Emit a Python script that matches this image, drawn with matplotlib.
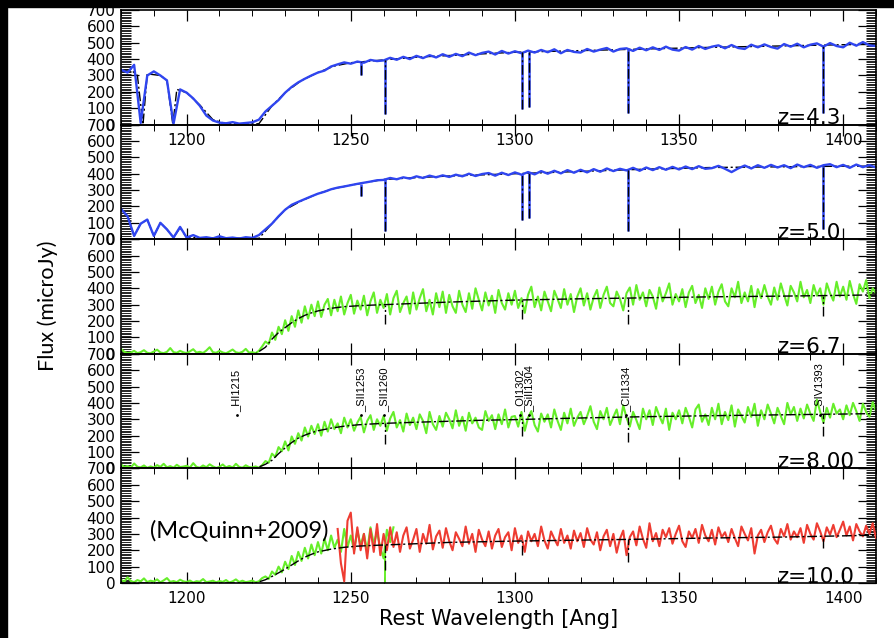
import numpy as np
import matplotlib.pyplot as plt
from matplotlib.ticker import MultipleLocator
from matplotlib.patches import Rectangle

plt.rcParams['font.family'] = 'DejaVu Sans'

BLUE = '#2f45f0'
GREEN = '#66ee2a'
RED = '#ee3c32'

# observed spectra, rest wavelength in Angstrom, flux in microJy
wave_coarse = np.arange(1180, 1411, 2)
wave_fine = np.arange(1180, 1411)

flux_z43 = [335, 318, 365, 10, 300, 325, 300, 270, 5, 215,
            195, 160, 115, 55, 25, 12, 8, 15, 6, 10,
            14, 30, 80, 115, 150, 195, 230, 258, 280, 300,
            318, 330, 355, 368, 380, 372, 385, 378, 395, 388,
            392, 408, 396, 414, 400, 420, 406, 424, 410, 430,
            414, 432, 418, 440, 424, 438, 446, 428, 450, 434,
            448, 436, 452, 440, 456, 442, 460, 436, 456, 444,
            440, 462, 446, 458, 468, 446, 462, 466, 450, 470,
            454, 472, 456, 476, 458, 452, 474, 458, 480, 462,
            476, 484, 466, 486, 468, 462, 488, 472, 490, 474,
            464, 492, 476, 494, 472, 488, 496, 476, 498, 480,
            472, 500, 482, 504, 484, 480]

flux_z50 = [185, 140, 20, 95, 120, 20, 100, 60, 10, 75,
            10, 25, 8, 12, 5, 18, 6, 10, 4, 12,
            8, 25, 60, 95, 140, 180, 210, 228, 245, 262,
            278, 290, 305, 315, 322, 330, 338, 345, 352, 360,
            362, 374, 366, 378, 370, 384, 374, 388, 378, 390,
            380, 394, 384, 400, 386, 398, 404, 388, 406, 392,
            408, 394, 410, 396, 416, 400, 418, 402, 422, 406,
            424, 408, 428, 412, 432, 416, 430, 420, 436, 418,
            438, 422, 440, 424, 442, 426, 444, 428, 446, 430,
            434, 448, 430, 410, 432, 450, 432, 452, 436, 454,
            438, 452, 434, 456, 440, 454, 436, 452, 458, 440,
            454, 436, 456, 440, 452, 438]

flux_z67 = [30, 12, 5, 8, 18, 4, 10, 22, 6, 3,
            14, 25, 8, 4, 12, 35, 10, 6, 18, 9,
            4, 15, 28, 7, 12, 5, 20, 40, 10, 6,
            18, 8, 3, 14, 26, 9, 5, 12, 30, 7,
            10, 4, 18, 45, 75, 60, 130, 85, 165, 120,
            205, 140, 230, 165, 265, 190, 290, 215, 300, 230,
            320, 225, 300, 335, 235, 330, 260, 350, 240, 310,
            360, 245, 325, 270, 355, 235, 320, 375, 250, 330,
            280, 365, 240, 340, 385, 255, 310, 350, 245, 375,
            270, 340, 395, 260, 330, 240, 370, 285, 380, 250,
            360, 290, 250, 385, 300, 255, 370, 275, 400, 330,
            265, 375, 295, 355, 250, 390, 310, 270, 370, 300,
            385, 280, 340, 250, 360, 410, 285, 350, 265, 380,
            320, 260, 385, 335, 280, 395, 300, 365, 255, 350,
            400, 295, 370, 270, 345, 390, 280, 360, 410, 310,
            290, 380, 335, 265, 370, 405, 300, 420, 330, 375,
            290, 390, 350, 275, 405, 320, 370, 430, 300, 365,
            320, 395, 285, 375, 415, 310, 360, 280, 400, 335,
            410, 300, 380, 425, 320, 290, 400, 345, 440, 310,
            375, 320, 415, 285, 395, 340, 420, 350, 300, 405,
            330, 430, 360, 295, 415, 375, 320, 440, 345, 390,
            310, 420, 355, 400, 300, 430, 370, 325, 440, 350,
            410, 330, 445, 365, 305, 425, 380, 450, 340, 400,
            370]

flux_z80 = [25, 8, 15, 4, 30, 10, 6, 18, 3, 12,
            5, 20, 9, 28, 6, 14, 4, 22, 8, 11,
            16, 5, 32, 9, 4, 18, 7, 25, 12, 3,
            10, 24, 6, 15, 5, 28, 9, 4, 19, 8,
            6, 12, 4, 20, 45, 35, 90, 70, 130, 105,
            165, 110, 195, 150, 215, 170, 250, 195, 260, 210,
            270, 200, 285, 225, 300, 240, 275, 215, 310, 250,
            300, 230, 280, 315, 220, 290, 325, 235, 300, 260,
            320, 230, 305, 345, 250, 295, 225, 335, 265, 310,
            240, 330, 290, 215, 345, 270, 235, 320, 255, 340,
            300, 245, 355, 260, 315, 230, 340, 275, 310, 250,
            235, 350, 290, 325, 240, 330, 270, 360, 250, 315,
            320, 255, 345, 230, 310, 350, 265, 225, 335, 285,
            330, 250, 360, 290, 235, 340, 275, 365, 260, 310,
            345, 270, 320, 380, 285, 240, 350, 300, 370, 265,
            315, 360, 270, 385, 310, 255, 345, 295, 240, 365,
            300, 355, 265, 375, 320, 275, 365, 235, 340, 300,
            355, 275, 370, 315, 250, 360, 390, 285, 330, 265,
            370, 300, 395, 270, 345, 295, 385, 255, 360, 320,
            280, 375, 315, 395, 260, 355, 300, 390, 335, 275,
            370, 320, 270, 400, 330, 375, 290, 365, 305, 390,
            335, 290, 420, 345, 280, 370, 310, 395, 335, 360,
            300, 385, 325, 400, 350, 290, 395, 345, 315, 405,
            350]

wave_z100_green = np.arange(1180, 1264)
flux_z100_green = [20, 8, 35, 12, 5, 18, 10, 28, 6, 14,
                   9, 22, 4, 16, 30, 7, 12, 5, 20, 10,
                   6, 15, 3, 11, 8, 24, 5, 9, 14, 4,
                   12, 7, 18, 3, 10, 22, 6, 14, 5, 9,
                   15, 4, 10, 30, 40, 25, 70, 50, 100, 65,
                   130, 85, 165, 110, 190, 135, 215, 150, 235, 170,
                   250, 180, 270, 200, 290, 215, 265, 190, 330, 220,
                   290, 200, 320, 230, 300, 195, 340, 240, 310, 215,
                   150, 325, 250, 340]

wave_z100_red = np.arange(1246, 1411)
flux_z100_red = [330, 120, 10, 380, 430, 180, 340, 200, 300, 150,
                 330, 190, 360, 170, 300, 200, 340, 220, 310, 190,
                 290, 340, 210, 265, 330, 190, 300, 240, 355, 205,
                 285, 320, 215, 335, 255, 200, 310, 270, 225, 345,
                 240, 300, 190, 325, 265, 225, 315, 210, 290, 330,
                 220, 280, 310, 200, 335, 245, 290, 190, 315, 255,
                 300, 225, 345, 260, 210, 315, 270, 230, 330, 245,
                 290, 210, 320, 255, 305, 220, 335, 265, 235, 310,
                 200, 285, 325, 225, 300, 185, 270, 320, 170, 280,
                 315, 230, 345, 270, 215, 365, 255, 305, 225, 325,
                 280, 335, 240, 300, 350, 255, 220, 315, 275, 330,
                 245, 355, 290, 255, 325, 235, 340, 280, 310, 250,
                 330, 275, 225, 345, 300, 260, 335, 180, 290, 325,
                 250, 310, 350, 270, 240, 330, 285, 360, 265, 315,
                 280, 335, 245, 355, 300, 265, 365, 315, 255, 340,
                 295, 355, 280, 325, 375, 290, 345, 260, 360, 315,
                 285, 350, 300, 365, 275]

# continuum + damping wing fits
fit_wave_z43 = [1180, 1183, 1185, 1186.7, 1188, 1192, 1194, 1195.8, 1197, 1200,
                1204, 1208, 1212, 1222, 1226, 1230, 1235, 1240, 1245, 1250,
                1260, 1270, 1280, 1300, 1320, 1340, 1360, 1380, 1400, 1410]
fit_z43 = [330, 335, 300, 0, 310, 300, 270, 0, 215, 195,
           120, 30, 5, 5, 115, 195, 270, 318, 358, 378,
           395, 412, 422, 442, 452, 462, 472, 480, 488, 490]

fit_wave_z50 = [1180, 1182, 1184, 1186, 1188, 1190, 1192, 1194, 1196, 1198,
                1200, 1222, 1226, 1230, 1235, 1240, 1245, 1250, 1260, 1270,
                1280, 1300, 1320, 1340, 1360, 1380, 1400, 1410]
fit_z50 = [180, 140, 20, 95, 120, 20, 100, 60, 10, 70,
           10, 5, 95, 180, 235, 278, 310, 330, 365, 376,
           386, 400, 414, 428, 438, 442, 446, 446]

fit_wave = [1180, 1221, 1224, 1226, 1228, 1230, 1232, 1234, 1236, 1238,
            1240, 1244, 1248, 1252, 1256, 1260, 1270, 1280, 1290, 1300,
            1320, 1340, 1360, 1380, 1400, 1410]
fit_z67 = [0, 0, 40, 90, 130, 160, 190, 215, 235, 250,
           262, 278, 288, 293, 297, 300, 308, 316, 322, 328,
           336, 342, 348, 352, 357, 360]
fit_z80 = [0, 0, 25, 50, 90, 125, 158, 185, 203, 218,
           230, 246, 258, 266, 271, 275, 282, 288, 294, 298,
           308, 316, 322, 327, 332, 335]
fit_z100 = [0, 0, 20, 40, 62, 85, 110, 135, 158, 175,
            190, 207, 218, 225, 229, 232, 240, 248, 252, 256,
            262, 268, 275, 280, 288, 292]

# metal absorption lines in the blue spectra
line_wave = [1253.0, 1260.4, 1302.2, 1304.4, 1334.5, 1393.8]
line_top_z43 = [380, 395, 442, 446, 460, 486]
line_bot_z43 = [300, 65, 95, 110, 70, 70]
line_top_z50 = [340, 365, 400, 404, 425, 446]
line_bot_z50 = [262, 50, 120, 130, 50, 60]

# metal lines in the fitted model of the mock spectra
fit_line_wave = [1260.4, 1302.2, 1334.5, 1393.8]
fit_line_top_z67 = [298, 330, 340, 355]
fit_line_bot_z67 = [183, 213, 183, 231]
fit_line_top_z80 = [275, 298, 314, 330]
fit_line_bot_z80 = [146, 195, 164, 195]
fit_line_top_z100 = [232, 256, 266, 285]
fit_line_bot_z100 = [79, 170, 128, 213]

label_wave = [1215.2, 1253.2, 1260.1, 1301.7, 1304.4, 1333.8, 1392.8]
label_text = ['HI1215', 'SII1253', 'SII1260', 'OI1302', 'SiII1304', 'CII1334', 'SIV1393']

z_labels = ['z=4.3', 'z=5.0', 'z=6.7', 'z=8.00', 'z=10.0']

FIT_STYLE = dict(color='k', lw=1.0, ls=(0, (7, 2, 1.5, 2)), zorder=4)
NOISY = dict(lw=1.5)


def style_axis(ax, show_x):
    ax.set_facecolor('none')
    ax.set_xlim(1180, 1410)
    ax.set_ylim(0, 700)
    ax.xaxis.set_major_locator(MultipleLocator(50))
    ax.xaxis.set_minor_locator(MultipleLocator(10))
    ax.yaxis.set_major_locator(MultipleLocator(100))
    ax.yaxis.set_minor_locator(MultipleLocator(10))
    ax.tick_params(which='both', direction='in', top=True, right=True,
                   labelsize=11, colors='k')
    ax.tick_params(axis='x', which='major', length=8, width=0.9, pad=6)
    ax.tick_params(axis='x', which='minor', length=4, width=0.7)
    ax.tick_params(axis='y', which='major', length=13, width=0.9, pad=4)
    ax.tick_params(axis='y', which='minor', length=7, width=0.6)
    ax.tick_params(axis='x', labelbottom=show_x)
    for sp in ax.spines.values():
        sp.set_linewidth(1.2)


fig = plt.figure(figsize=(8.94, 6.38), dpi=100)

panel_h = 114.6
axes = []
for i in range(5):
    bottom_px = 10 + (i + 1) * panel_h
    ax = fig.add_axes([121 / 894, 1 - bottom_px / 638, 755 / 894, panel_h / 638])
    style_axis(ax, show_x=(i == 0 or i == 4))
    ax.text(0.869, 0.004, z_labels[i], transform=ax.transAxes,
            fontsize=15.5, va='baseline', ha='left', zorder=6)
    axes.append(ax)

# z = 4.3 (fit sits under the data, only the line cores show through)
ax = axes[0]
ax.plot(fit_wave_z43, fit_z43, **dict(FIT_STYLE, zorder=1))
ax.plot(wave_coarse, flux_z43, color=BLUE, lw=1.7, zorder=2)
ax.vlines(line_wave, line_bot_z43, line_top_z43, color=BLUE, lw=1.8, zorder=2)
ax.vlines(line_wave, line_bot_z43, line_top_z43, **FIT_STYLE)

# z = 5.0
ax = axes[1]
ax.plot(fit_wave_z50, fit_z50, **dict(FIT_STYLE, zorder=1))
ax.plot(wave_coarse, flux_z50, color=BLUE, lw=1.7, zorder=2)
ax.vlines(line_wave, line_bot_z50, line_top_z50, color=BLUE, lw=1.8, zorder=2)
ax.vlines(line_wave, line_bot_z50, line_top_z50, **FIT_STYLE)

# z = 6.7
ax = axes[2]
ax.plot(wave_fine, flux_z67, color=GREEN, zorder=2, **NOISY)
ax.plot(fit_wave, fit_z67, **FIT_STYLE)
ax.vlines(fit_line_wave, fit_line_bot_z67, fit_line_top_z67, **FIT_STYLE)

# z = 8.0, with line identifications
ax = axes[3]
ax.plot(wave_fine, flux_z80, color=GREEN, zorder=2, **NOISY)
ax.plot(fit_wave, fit_z80, **FIT_STYLE)
ax.vlines(fit_line_wave, fit_line_bot_z80, fit_line_top_z80, **FIT_STYLE)
for w, name in zip(label_wave, label_text):
    ax.text(w, 345, '_' + name, rotation=90, ha='center', va='bottom',
            fontsize=8, family='Liberation Sans', zorder=5)
    ax.plot(w, 325, marker='.', ms=2, color='k', zorder=5)

# z = 10.0
ax = axes[4]
ax.plot(wave_z100_green, flux_z100_green, color=GREEN, zorder=2, **NOISY)
ax.vlines(1260.4, 0, 232, color=GREEN, lw=1.4, zorder=2)
ax.plot(wave_z100_red, flux_z100_red, color=RED, zorder=3, **NOISY)
ax.plot(fit_wave, fit_z100, **FIT_STYLE)
ax.vlines(fit_line_wave, fit_line_bot_z100, fit_line_top_z100, **FIT_STYLE)
ax.set_xlabel('Rest Wavelength [Ang]', fontsize=15, labelpad=2)

fig.text(150 / 894, 1 - 531 / 638, '(McQuinn+2009)', family='Lato',
         fontsize=17, va='center', ha='left')
fig.text(48 / 894, 1 - 306 / 638, 'Flux (microJy)', family='Lato',
         fontsize=15.5, rotation=90, va='center', ha='center')

# dark frame along top and left edges
fig.patches.append(Rectangle((0, 1 - 7 / 638), 1, 7 / 638, transform=fig.transFigure,
                             color='k', zorder=10))
fig.patches.append(Rectangle((0, 0), 7 / 894, 1, transform=fig.transFigure,
                             color='k', zorder=10))

fig.savefig('out.png', dpi=100)
